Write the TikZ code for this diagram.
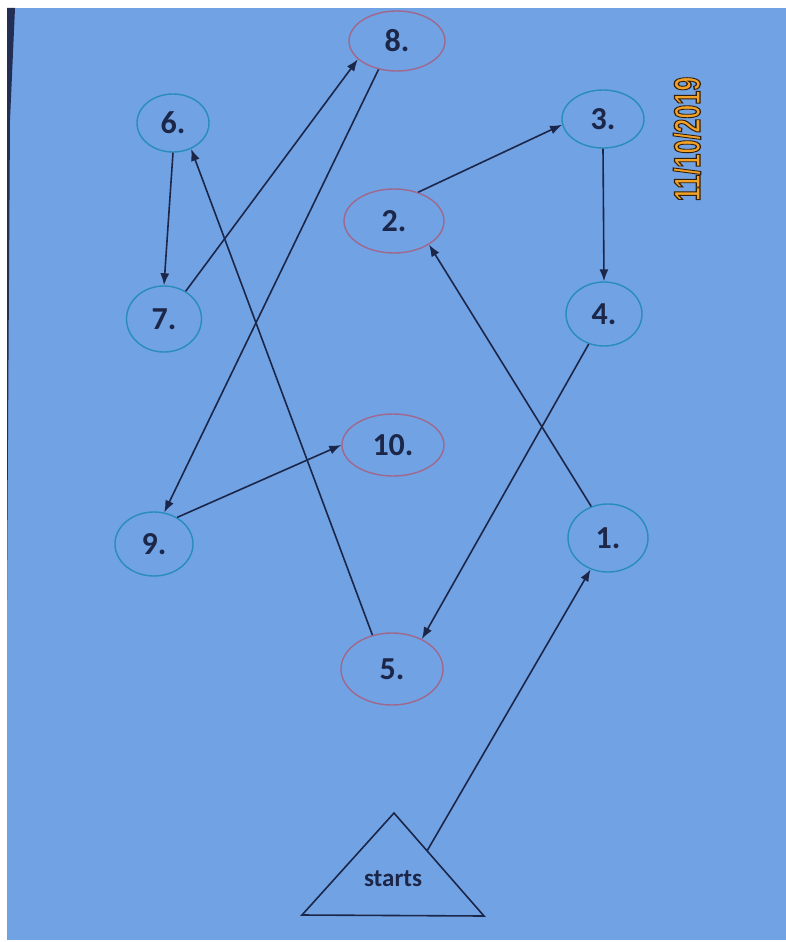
\documentclass[tikz,border=0pt]{standalone}
\usepackage{fontspec}
\usepackage{graphicx}
\setmainfont{Carlito}
\newfontfamily\stampfont{Liberation Sans}
\usetikzlibrary{shapes.geometric, arrows.meta}
\definecolor{paperblue}{RGB}{112, 162, 228}
\definecolor{inkblue}{RGB}{28, 38, 72}
\definecolor{ringteal}{RGB}{40, 140, 188}
\definecolor{ringred}{RGB}{160, 104, 140}
\definecolor{stamporange}{RGB}{242, 162, 40}
\definecolor{edgedark}{RGB}{34, 46, 84}

\begin{document}
\begin{tikzpicture}[x=1pt, y=-1pt,
    ring/.style={ellipse, line width=1.4pt, inner sep=0pt, text=inkblue,
                 font=\fontsize{32}{32}\selectfont\bfseries},
    tealring/.style={ring, draw=ringteal},
    redring/.style={ring, draw=ringred},
    link/.style={draw=inkblue, line width=1.6pt, -{Latex[length=12pt, width=9pt]}}
]
    % paper and photo edges
    \useasboundingbox (0,0) rectangle (786,942);
    \fill[white] (0,0) rectangle (786,942);
    \fill[paperblue] (7,8) rectangle (786,940);
    \fill[edgedark] (7,8) -- (15,8) -- (10,120) -- (7,600) -- cycle;

    % stops
    \node[redring, minimum width=96, minimum height=60] (n8) at (397,41) {8.};
    \node[tealring, minimum width=72, minimum height=58] (n6) at (173,123) {6.};
    \node[tealring, minimum width=82, minimum height=58] (n3) at (603,119) {3.};
    \node[redring, minimum width=100, minimum height=64] (n2) at (394,221) {2.};
    \node[tealring, minimum width=75, minimum height=66] (n7) at (164,319) {7.};
    \node[tealring, minimum width=76, minimum height=64] (n4) at (604,314) {4.};
    \node[redring, minimum width=102, minimum height=62] (n10) at (393,445) {10.};
    \node[tealring, minimum width=78, minimum height=64] (n9) at (154,544) {9.};
    \node[tealring, minimum width=80, minimum height=68] (n1) at (608,538) {1.};
    \node[redring, minimum width=102, minimum height=72] (n5) at (392,669) {5.};

    % start triangle
    \draw[inkblue, line width=1.6pt, line join=miter] (394,813) -- (484,916) -- (302,915) -- cycle;
    \node[text=inkblue, font=\fontsize{25}{25}\selectfont\bfseries] (start) at (393,879) {starts};
    \coordinate (kick) at (427,851);

    % date stamp
    \node[rotate=90, text=stamporange, font=\stampfont\fontsize{37}{37}\selectfont\bfseries] (stamp) at (687,139)
        {\special{pdf:literal direct 2 Tr 1.3 w 0.2 0.12 0.04 RG}\scalebox{0.68}[1]{11/10/2019}\special{pdf:literal direct 0 Tr}};

    % route
    \draw[link] (kick) -- (n1.241);
    \draw[link] (n1.118) -- (n2.326);
    \draw[link] (n2.50) -- (n3.188);
    \draw[link] (n3.south) -- (n4.north);
    \draw[link] (n4.243) -- (n5.45);
    \draw[link] (n5.120) -- (n6.305);
    \draw[link] (n6.south) -- (n7.north);
    \draw[link] (n7.52) -- (n8.205);
    \draw[link] (n8.237) -- (n9.72);
    \draw[link] (n9.49) -- (n10.180);
\end{tikzpicture}
\end{document}
